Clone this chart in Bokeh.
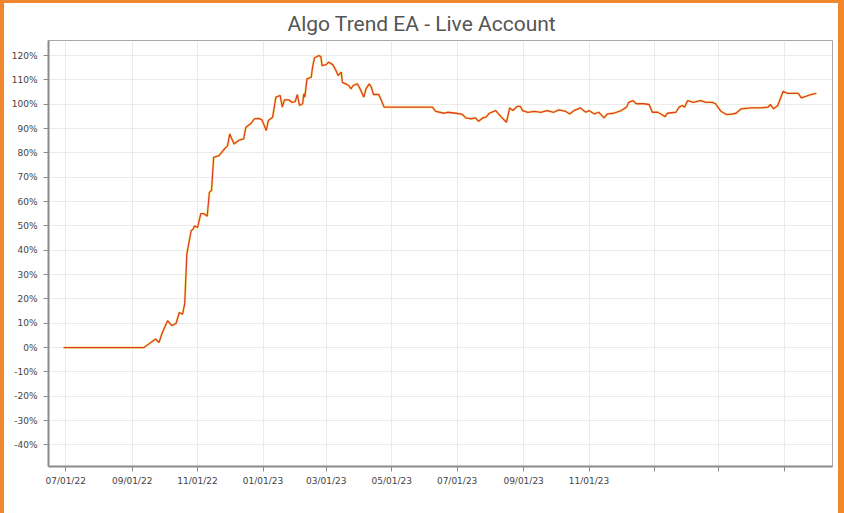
import pandas as pd
from bokeh.plotting import figure
from bokeh.models import (Range1d, FixedTicker, PrintfTickFormatter, Legend,
                          LegendItem)
from bokeh.embed import file_html
from bokeh.resources import INLINE

dates = [
    "2022-06-29", "2022-09-12", "2022-09-23", "2022-09-26", "2022-09-29", "2022-10-04",
    "2022-10-08", "2022-10-12", "2022-10-15", "2022-10-18", "2022-10-20", "2022-10-22",
    "2022-10-26", "2022-10-28", "2022-10-29", "2022-11-01", "2022-11-04", "2022-11-07",
    "2022-11-10", "2022-11-12", "2022-11-14", "2022-11-16", "2022-11-21", "2022-11-26",
    "2022-11-29", "2022-12-01", "2022-12-05", "2022-12-10", "2022-12-14", "2022-12-16",
    "2022-12-21", "2022-12-24", "2022-12-28", "2022-12-31", "2023-01-04", "2023-01-06",
    "2023-01-10", "2023-01-13", "2023-01-17", "2023-01-19", "2023-01-21", "2023-01-25",
    "2023-01-28", "2023-01-31", "2023-02-02", "2023-02-04", "2023-02-07", "2023-02-08",
    "2023-02-09", "2023-02-11", "2023-02-15", "2023-02-16", "2023-02-18", "2023-02-22",
    "2023-02-24", "2023-02-25", "2023-03-01", "2023-03-03", "2023-03-07", "2023-03-10",
    "2023-03-12", "2023-03-15", "2023-03-16", "2023-03-19", "2023-03-22", "2023-03-24",
    "2023-03-26", "2023-03-30", "2023-04-02", "2023-04-05", "2023-04-07", "2023-04-10",
    "2023-04-12", "2023-04-14", "2023-04-19", "2023-04-24", "2023-06-08", "2023-06-11",
    "2023-06-19", "2023-06-22", "2023-06-30", "2023-07-06", "2023-07-09", "2023-07-14",
    "2023-07-18", "2023-07-21", "2023-07-25", "2023-07-28", "2023-07-31", "2023-08-06",
    "2023-08-09", "2023-08-12", "2023-08-16", "2023-08-19", "2023-08-22", "2023-08-26",
    "2023-08-29", "2023-08-31", "2023-09-05", "2023-09-11", "2023-09-17", "2023-09-23",
    "2023-09-29", "2023-10-04", "2023-10-10", "2023-10-14", "2023-10-18", "2023-10-24",
    "2023-10-29", "2023-11-01", "2023-11-06", "2023-11-10", "2023-11-15", "2023-11-18",
    "2023-11-24", "2023-12-01", "2023-12-06", "2023-12-08", "2023-12-12", "2023-12-15",
    "2023-12-22", "2023-12-27", "2023-12-30", "2024-01-04", "2024-01-07", "2024-01-11",
    "2024-01-13", "2024-01-21", "2024-01-24", "2024-01-27", "2024-01-29", "2024-02-01",
    "2024-02-06", "2024-02-13", "2024-02-18", "2024-02-24", "2024-02-27", "2024-03-03",
    "2024-03-08", "2024-03-12", "2024-03-17", "2024-03-22", "2024-03-31", "2024-04-09",
    "2024-04-16", "2024-04-18", "2024-04-21", "2024-04-25", "2024-04-30", "2024-05-04",
    "2024-05-14", "2024-05-17", "2024-05-21", "2024-05-26", "2024-05-31",
]

gain = [
    0, 0, 3.5, 2, 6, 11,
    9, 10, 14.4, 13.7, 18, 38.5,
    48, 48.7, 50, 49.4, 55, 55,
    54, 63.8, 64.5, 78.2, 78.9, 81.6,
    83, 87.8, 83.7, 85.3, 85.8, 90.5,
    92.2, 94, 94.2, 93.6, 89.2, 93.3,
    94.7, 102.9, 103.6, 98.8, 101.8, 101.8,
    100.8, 101.1, 104, 99.5, 100.2, 104.3,
    102.9, 110.4, 111.1, 114.6, 119.1, 120,
    119.6, 115.9, 116.3, 117.3, 116.3, 113.9,
    111.8, 113.2, 109, 108.4, 107.7, 106.3,
    107.7, 108.4, 105.9, 102.9, 106.3, 108.4,
    107, 104, 104, 98.8, 98.8, 97.1,
    96.3, 96.7, 96.3, 95.8, 94.4, 94,
    94.4, 93, 94.4, 94.7, 96.3, 97.4,
    95.8, 94.4, 92.6, 98.5, 97.4, 99.1,
    99.1, 97.4, 96.7, 97.1, 96.7, 97.4,
    96.7, 97.7, 97.1, 96, 97.4, 98.5,
    96.7, 97.4, 96, 96.7, 94.4, 96,
    96.3, 97.4, 98.8, 100.8, 101.5, 100.2,
    100.2, 99.9, 96.7, 96.7, 96, 94.9,
    96.3, 96.7, 98.8, 99.5, 98.8, 101.5,
    100.8, 101.5, 100.8, 100.8, 100.2, 97.1,
    95.8, 95.8, 96.3, 98.1, 98.5, 98.5,
    98.8, 99.9, 98.1, 99.5, 105.3, 104.5,
    104.5, 102.6, 103.2, 104, 104.5,
]

equity = [
    0, 0, 3.5, 2, 6, 11,
    9, 10, 14.4, 13.7, 18, 38.5,
    48, 48.7, 50, 49.4, 55, 55,
    54, 63.8, 64.5, 78.2, 78.9, 81.6,
    83, 87.8, 83.7, 85.3, 85.8, 90.5,
    92.2, 94, 94.2, 93.6, 89.2, 93.3,
    94.7, 102.9, 103.6, 98.8, 101.8, 101.8,
    100.8, 101.1, 104, 99.5, 100.2, 104.3,
    102.9, 110.4, 111.1, 114.6, 119.1, 120,
    119.6, 115.9, 116.3, 117.3, 116.3, 113.9,
    111.8, 113.2, 109, 108.4, 107.7, 106.3,
    107.7, 108.4, 105.9, 102.9, 106.3, 108.4,
    107, 104, 104, 98.8, 98.8, 97.1,
    96.3, 96.7, 96.3, 95.8, 94.4, 94,
    94.4, 93, 94.4, 94.7, 96.3, 97.4,
    95.8, 94.4, 92.6, 98.5, 97.4, 99.1,
    99.1, 97.4, 96.7, 97.1, 96.7, 97.4,
    96.7, 97.7, 97.1, 96, 97.4, 98.5,
    96.7, 97.4, 96, 96.7, 94.4, 96,
    96.3, 97.4, 98.8, 100.8, 101.5, 100.2,
    100.2, 99.9, 96.7, 96.7, 96, 94.9,
    96.3, 96.7, 98.8, 99.5, 98.8, 101.5,
    100.8, 101.5, 100.8, 100.8, 100.2, 97.1,
    95.8, 95.8, 96.3, 98.1, 98.5, 98.5,
    98.8, 99.9, 98.1, 99.5, 105.3, 104.5,
    104.5, 102.6, 103.2, 104, 104.5,
]

x_tick_dates = ["2022-07-01", "2022-09-01", "2022-11-01", "2023-01-01", "2023-03-01",
                "2023-05-01", "2023-07-01", "2023-09-01", "2023-11-01", "2024-01-01",
                "2024-03-01", "2024-05-01"]
x_tick_labels = ["07/01/22", "09/01/22", "11/01/22", "01/01/23", "03/01/23", "05/01/23",
                 "07/01/23", "09/01/23", "11/01/23", "", "", ""]
y_ticks = [-40, -30, -20, -10, 0, 10, 20, 30, 40, 50, 60, 70, 80, 90, 100, 110, 120]

title_text = "Algo Trend EA - Live Account"

x = pd.to_datetime(dates)
tick_ms = [int(pd.Timestamp(d).value // 10**6) for d in x_tick_dates]

p = figure(frame_width=784, frame_height=426, x_axis_type="datetime",
           x_range=Range1d(pd.Timestamp("2022-06-15"), pd.Timestamp("2024-06-15")),
           y_range=Range1d(-48.9, 126.2),
           output_backend="svg", toolbar_location=None,
           min_border_left=44, min_border_right=6, min_border_top=37, min_border_bottom=0,
           background_fill_color="white", border_fill_color="white")
p.styles = {"border-style": "solid", "border-color": "#f0872e",
            "border-width": "3px 6px 4px 4px"}

p.title.text = title_text
p.title.align = "left"
p.title.offset = 239
p.title.standoff = 10
p.title.text_font = "Roboto"
p.title.text_font_size = "21px"
p.title.text_font_style = "normal"
p.title.text_color = "#555555"

p.outline_line_color = "#a8a8a8"
p.outline_line_width = 1

for ax in (p.xaxis[0], p.yaxis[0]):
    ax.axis_line_color = "#8a8a8a"
    ax.axis_line_width = 2
    ax.major_tick_line_color = "#8a8a8a"
    ax.major_tick_line_width = 1
    ax.major_tick_out = 5
    ax.major_tick_in = 0
    ax.minor_tick_line_color = None
    ax.major_label_text_font = "DejaVu Sans"
    ax.major_label_text_font_size = "9px"
    ax.major_label_text_color = "#444444"

p.xaxis[0].ticker = FixedTicker(ticks=tick_ms)
p.xaxis[0].major_label_overrides = {t: lab for t, lab in zip(tick_ms, x_tick_labels)}
p.xaxis[0].major_label_standoff = 4
p.xaxis[0].axis_label = " "
p.xaxis[0].axis_label_text_font_size = "8px"
p.xaxis[0].axis_label_standoff = 2
p.yaxis[0].ticker = FixedTicker(ticks=y_ticks)
p.yaxis[0].formatter = PrintfTickFormatter(format="%d%%")
p.yaxis[0].major_label_standoff = 6

p.xgrid[0].grid_line_color = "#ebebeb"
p.ygrid[0].grid_line_color = "#ebebeb"
p.xgrid[0].ticker = FixedTicker(ticks=tick_ms)

r_eq = p.line(x, equity, line_color="#f5ea86", line_width=2.6, line_alpha=0.9)
r_gain = p.line(x, gain, line_color="#e03c28", line_width=1.3)

legend = Legend(items=[LegendItem(label="Gain", renderers=[r_gain]),
                       LegendItem(label="Equity", renderers=[r_eq])],
                orientation="horizontal", location=(325, 0),
                label_text_font="DejaVu Sans", label_text_font_size="9px",
                label_text_color="#444444", glyph_width=15, glyph_height=8,
                label_height=12, label_standoff=5, spacing=13, padding=0, margin=0,
                border_line_color=None, background_fill_alpha=0)
p.add_layout(legend, "below")

open("out.html", "w").write(file_html(p, INLINE))
